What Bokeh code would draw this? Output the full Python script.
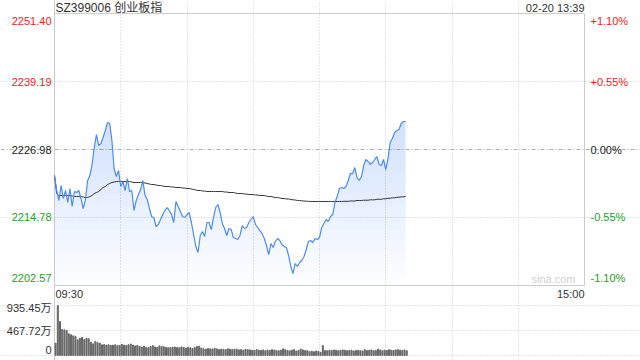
import numpy as np
from bokeh.plotting import figure
from bokeh.models import Range1d, FixedTicker, Grid, Label
from bokeh.embed import file_html
from bokeh.resources import INLINE

# ---------------- data ----------------
title_text = "SZ399006 创业板指"
stamp_text = "02-20 13:39"
prev_close = 2226.98
price_ticks = [2202.57, 2214.78, 2226.98, 2239.19, 2251.40]
price_tick_labels = ["2202.57", "2214.78", "2226.98", "2239.19", "2251.40"]
pct_labels = ["-1.10%", "-0.55%", "0.00%", "+0.55%", "+1.10%"]
vol_ticks = [0, 467.72, 935.45]
vol_tick_labels = ["0", "467.72万", "935.45万"]
time_labels = ["09:30", "15:00"]
session_minutes = 240
half_hour_marks = [30, 60, 90, 120, 150, 180, 210]

price = [
    2222.31, 2219.62, 2217.83, 2220.52, 2218.19, 2219.62, 2217.47, 2219.98, 2216.75, 2219.44,
    2219.26, 2219.62, 2218.19, 2216.39, 2218.01, 2221.42, 2222.31, 2224.29, 2227.34, 2229.67,
    2227.70, 2228.06, 2229.13, 2230.39, 2231.83, 2231.65, 2228.60, 2223.57, 2222.13, 2223.21,
    2220.34, 2221.24, 2219.62, 2221.78, 2219.44, 2219.62, 2216.03, 2217.83, 2218.90, 2219.80,
    2221.42, 2218.72, 2218.01, 2216.39, 2214.95, 2214.78, 2213.16, 2213.52, 2214.42, 2215.31,
    2216.03, 2216.57, 2216.03, 2215.31, 2213.88, 2217.65, 2216.75, 2215.85, 2214.95, 2214.78,
    2215.31, 2215.67, 2213.88, 2211.72, 2209.57, 2208.49, 2211.54, 2212.26, 2211.37, 2213.88,
    2213.88, 2212.62, 2214.78, 2216.57, 2217.11, 2215.67, 2213.70, 2212.80, 2211.54, 2212.80,
    2212.62, 2211.19, 2211.01, 2210.83, 2211.54, 2213.34, 2212.80, 2212.98, 2213.88, 2214.42,
    2214.95, 2213.52, 2212.98, 2212.44, 2211.90, 2211.01, 2209.75, 2208.13, 2210.11, 2209.39,
    2210.47, 2211.01, 2210.65, 2209.93, 2209.57, 2209.39, 2207.96, 2205.98, 2204.72, 2206.52,
    2205.98, 2206.70, 2207.06, 2207.78, 2209.03, 2210.47, 2210.65, 2210.29, 2211.01, 2210.83,
    2211.19, 2212.98, 2213.70, 2214.42, 2214.06, 2214.95, 2215.31, 2217.47, 2218.54, 2219.98,
    2220.16, 2219.98, 2220.34, 2221.42, 2222.67, 2222.67, 2223.75, 2221.95, 2221.42, 2222.13,
    2224.11, 2225.19, 2224.83, 2224.29, 2224.65, 2225.19, 2225.72, 2224.29, 2224.11, 2225.19,
    2223.39, 2225.36, 2228.24, 2228.95, 2230.03, 2230.39, 2230.57, 2231.65, 2232.01, 2232.01,
]

avg_price = [
    2222.31, 2219.08, 2218.72, 2218.72, 2218.72, 2218.72, 2218.72, 2218.72, 2218.63, 2218.54,
    2218.54, 2218.54, 2218.54, 2218.45, 2218.36, 2218.36, 2218.54, 2218.72, 2219.08, 2219.26,
    2219.44, 2219.80, 2220.16, 2220.34, 2220.70, 2220.88, 2221.06, 2221.15, 2221.24, 2221.24,
    2221.24, 2221.24, 2221.24, 2221.24, 2221.24, 2221.15, 2221.06, 2221.06, 2221.06, 2221.06,
    2221.06, 2220.97, 2220.88, 2220.79, 2220.70, 2220.70, 2220.61, 2220.52, 2220.52, 2220.43,
    2220.34, 2220.34, 2220.34, 2220.25, 2220.25, 2220.16, 2220.16, 2220.16, 2220.07, 2220.07,
    2219.98, 2219.98, 2219.89, 2219.80, 2219.71, 2219.62, 2219.62, 2219.53, 2219.53, 2219.44,
    2219.44, 2219.44, 2219.44, 2219.44, 2219.44, 2219.44, 2219.44, 2219.35, 2219.35, 2219.26,
    2219.26, 2219.26, 2219.17, 2219.08, 2219.08, 2219.08, 2218.99, 2218.99, 2218.90, 2218.90,
    2218.90, 2218.81, 2218.81, 2218.72, 2218.72, 2218.72, 2218.63, 2218.54, 2218.54, 2218.45,
    2218.36, 2218.36, 2218.28, 2218.19, 2218.19, 2218.10, 2218.10, 2218.01, 2217.95, 2217.92,
    2217.83, 2217.83, 2217.77, 2217.74, 2217.70, 2217.68, 2217.65, 2217.65, 2217.65, 2217.65,
    2217.65, 2217.65, 2217.65, 2217.65, 2217.65, 2217.65, 2217.65, 2217.65, 2217.65, 2217.65,
    2217.65, 2217.68, 2217.68, 2217.68, 2217.74, 2217.74, 2217.74, 2217.83, 2217.83, 2217.83,
    2217.88, 2217.88, 2217.88, 2217.95, 2217.95, 2217.95, 2218.05, 2218.05, 2218.05, 2218.14,
    2218.14, 2218.23, 2218.23, 2218.32, 2218.32, 2218.41, 2218.41, 2218.49, 2218.49, 2218.54,
]

volume = [
    230, 935.45, 636, 486, 480, 468, 406, 387, 368, 355,
    293, 324, 337, 299, 324, 312, 249, 219, 262, 243,
    230, 200, 205, 195, 200, 190, 195, 200, 185, 190,
    210, 195, 190, 200, 215, 195, 180, 190, 170, 160,
    175, 150, 145, 165, 185, 160, 150, 180, 170, 165,
    150, 145, 150, 155, 160, 150, 145, 160, 150, 140,
    155, 145, 130, 150, 170, 175, 140, 125, 120, 130,
    125, 120, 135, 125, 110, 120, 115, 110, 125, 120,
    110, 115, 120, 105, 110, 100, 115, 110, 105, 100,
    95, 110, 100, 95, 105, 90, 100, 95, 110, 100,
    95, 90, 100, 125, 110, 95, 90, 100, 110, 85,
    95, 120, 105, 95, 90, 75, 80, 70, 85, 75,
    60, 187, 95, 90, 100, 95, 105, 100, 90, 95,
    105, 100, 90, 95, 100, 85, 95, 100, 90, 85,
    110, 95, 100, 105, 90, 95, 120, 105, 90, 100,
    95, 110, 100, 95, 105, 110, 100, 95, 105, 90,
]

# ---------------- layout (pixels) & styles ----------------
W, H = 640, 360
PANE_L, PANE_R = 54, 584          # horizontal extent of both panes
PRICE_T, PRICE_B = 13, 285        # price pane top/bottom
VOL_T, VOL_B = 305, 355           # volume pane top/bottom

RED = "#f21b1b"
GREEN = "#1ea11e"
DARK = "#222222"
FONT = "Liberation Sans"
CJK_FONT = "Liberation Sans, Noto Sans CJK SC"
GRID = "#cccccc"

# ranges chosen so that the panes land at the pixel boxes above
x_per_px = session_minutes / (PANE_R - PANE_L)
x_range = Range1d(-PANE_L * x_per_px, session_minutes + (W - PANE_R) * x_per_px)
p_lo, p_hi = price_ticks[0], price_ticks[-1]
y_per_px = (p_hi - p_lo) / (PRICE_B - PRICE_T)
y_range = Range1d(p_lo - (H - PRICE_B) * y_per_px, p_hi + PRICE_T * y_per_px)
v_hi = vol_ticks[-1]
v_per_px = v_hi / (VOL_B - VOL_T)
vol_range = Range1d(0 - (H - VOL_B) * v_per_px, v_hi + VOL_T * v_per_px)

minutes = np.arange(len(price))
price_arr = np.array(price)

p = figure(width=W, height=H, x_range=x_range, y_range=y_range,
           output_backend="svg", toolbar_location=None,
           x_axis_location=None, y_axis_location=None,
           min_border=0, min_border_left=0, min_border_right=0,
           min_border_top=0, min_border_bottom=0,
           outline_line_color=None, background_fill_color="white",
           border_fill_color="white")
p.extra_y_ranges = {"vol": vol_range}
p.center = [r for r in p.center if not isinstance(r, Grid)]


def txt(text, x, y, align, color, size="11px", font=FONT, xo=0, yo=0, yr="default"):
    p.add_layout(Label(x=x, y=y, x_offset=xo, y_offset=yo, y_range_name=yr,
                       text=text, text_align=align, text_baseline="middle",
                       text_font=font, text_font_size=size, text_color=color))


# ---- price pane grid ----
p.add_layout(Grid(dimension=0, ticker=FixedTicker(ticks=half_hour_marks),
                  bounds=(p_lo, p_hi), grid_line_color=GRID, grid_line_dash="1 2"))
p.add_layout(Grid(dimension=1, ticker=FixedTicker(ticks=[price_ticks[1], price_ticks[3]]),
                  bounds=(0, session_minutes), grid_line_color=GRID, grid_line_dash="1 2"))
p.add_layout(Grid(dimension=1, ticker=FixedTicker(ticks=[prev_close]),
                  bounds=(0, session_minutes), grid_line_color="#b0b0b0",
                  grid_line_dash="4 2 1 2"))

# vertical gradient under the price line (stacked translucent bands)
levels = np.linspace(p_lo, p_hi, 25)[:-1]
for lv in levels:
    if lv >= price_arr.max():
        break
    p.varea(x=minutes, y1=np.full(len(price_arr), lv), y2=np.maximum(price_arr, lv),
            fill_color="#4a86e8", fill_alpha=0.014)

# pane border
p.quad(left=0, right=session_minutes, bottom=p_lo, top=p_hi,
       fill_color=None, line_color=GRID, line_width=1)

p.line(minutes, avg_price, line_color="#333333", line_width=1)
p.line(minutes, price, line_color="#4d8bf0", line_width=1.2)

# ---- price pane texts ----
left_colors = [GREEN, GREEN, DARK, RED, RED]
edge_offsets = [8, 0, 0, 0, -7]
for v, lab, pct, col, off in zip(price_ticks, price_tick_labels, pct_labels, left_colors, edge_offsets):
    txt(lab, 0, v, "right", col, xo=-3, yo=off)
    txt(pct, session_minutes, v, "left", col, xo=6, yo=off)

txt(title_text, 0, p_hi, "left", "#333333", size="12px", font=CJK_FONT, xo=1, yo=6)
txt(stamp_text, session_minutes, p_hi, "right", "#333333", yo=6)
txt(time_labels[0], 0, p_lo, "left", "#333333", xo=1, yo=-8)
txt(time_labels[1], session_minutes, p_lo, "right", "#333333", yo=-8)
txt("sina.com", session_minutes, p_lo, "right", "#d0d0d0", xo=-9, yo=7)

# ---- volume pane ----
p.add_layout(Grid(dimension=1, ticker=FixedTicker(ticks=vol_ticks), y_range_name="vol",
                  bounds=(0, session_minutes), grid_line_color=GRID, grid_line_dash="1 2"))
p.add_layout(Grid(dimension=0, ticker=FixedTicker(ticks=[0]), y_range_name="vol",
                  bounds=(0, v_hi), grid_line_color=GRID))
p.vbar(x=minutes + 0.5, top=volume, bottom=0, width=0.45, color="#666666", y_range_name="vol")

vol_offsets = [6, 0, -2]
for v, lab, off in zip(vol_ticks, vol_tick_labels, vol_offsets):
    txt(lab, 0, v, "right", "#333333", font=CJK_FONT, xo=-3, yo=off, yr="vol")

open("out.html", "w").write(file_html(p, INLINE))
